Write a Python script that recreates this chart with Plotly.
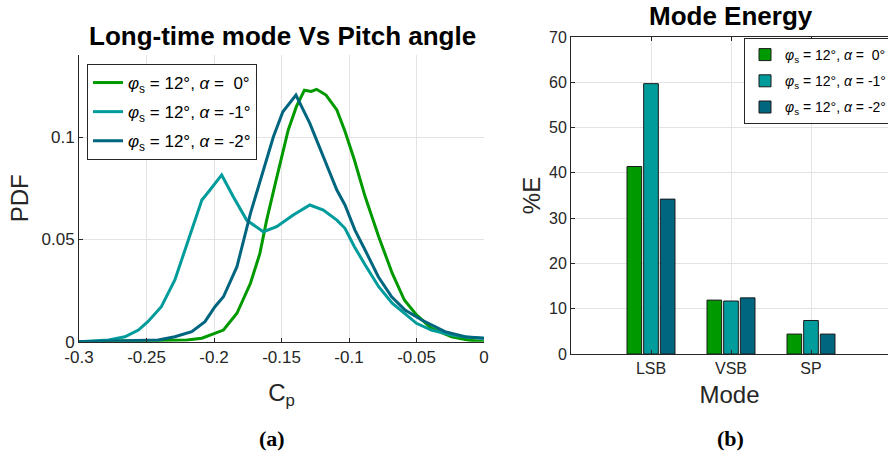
import plotly.graph_objects as go

# ---------------- data ----------------
# Left panel: PDF of Cp for three pitch angles
cp_a0 = [-0.30, -0.25, -0.22, -0.209, -0.199, -0.193, -0.183, -0.173, -0.166, -0.161, -0.154,
         -0.145, -0.139, -0.133, -0.128, -0.124, -0.117, -0.109, -0.103, -0.096, -0.088,
         -0.078, -0.068, -0.059, -0.050, -0.039, -0.024, -0.012, 0.0]
pdf_a0 = [0.0, 0.0003, 0.0008, 0.0017, 0.004, 0.0057, 0.0139, 0.0286, 0.0432, 0.0595, 0.0791,
          0.1036, 0.115, 0.1231, 0.1225, 0.1235, 0.1207, 0.1134, 0.1030, 0.0889, 0.0709,
          0.0514, 0.0335, 0.0204, 0.0131, 0.0066, 0.0024, 0.0008, 0.0]

cp_a1 = [-0.30, -0.278, -0.266, -0.256, -0.249, -0.239, -0.229, -0.219, -0.209, -0.204, -0.1943,
         -0.1857, -0.1758, -0.1635, -0.1536, -0.1413, -0.129, -0.119, -0.109, -0.103, -0.096,
         -0.088, -0.078, -0.068, -0.059, -0.050, -0.039, -0.024, -0.012, 0.0]
pdf_a1 = [0.0, 0.0008, 0.0024, 0.0057, 0.0098, 0.0171, 0.0302, 0.0498, 0.0693, 0.0734, 0.0816,
          0.0709, 0.0595, 0.0538, 0.0563, 0.062, 0.0669, 0.0644, 0.0595, 0.0555, 0.0465,
          0.0375, 0.0269, 0.0188, 0.0139, 0.009, 0.0057, 0.0033, 0.0022, 0.0017]

cp_a2 = [-0.30, -0.2413, -0.229, -0.2165, -0.2067, -0.1993, -0.193, -0.183, -0.173, -0.1635,
         -0.156, -0.149, -0.1393, -0.129, -0.119, -0.109, -0.103, -0.0956, -0.0881, -0.0783,
         -0.0684, -0.0585, -0.0461, -0.0289, -0.0141, 0.0]
pdf_a2 = [0.0, 0.0008, 0.0024, 0.0049, 0.0098, 0.0171, 0.022, 0.0367, 0.0628, 0.084,
          0.1003, 0.1125, 0.1207, 0.1068, 0.0905, 0.0742, 0.0669, 0.0546, 0.0449, 0.0318,
          0.022, 0.0155, 0.0106, 0.0049, 0.0024, 0.0017]

# Right panel: mode energy
modes = ["LSB", "VSB", "SP"]
energy_a0 = [41.4, 11.9, 4.4]
energy_a1 = [59.7, 11.7, 7.4]
energy_a2 = [34.2, 12.4, 4.4]

series_names = [
    "<i>φ</i><sub>s</sub> = 12°, <i>α</i> = \u00a00°",
    "<i>φ</i><sub>s</sub> = 12°, <i>α</i> = -1°",
    "<i>φ</i><sub>s</sub> = 12°, <i>α</i> = -2°",
]
colors = ["#009900", "#009B9B", "#00667F"]

x_ticks_left = [-0.3, -0.25, -0.2, -0.15, -0.1, -0.05, 0]
x_ticktext_left = ["-0.3", "-0.25", "-0.2", "-0.15", "-0.1", "-0.05", "0"]
y_ticks_left = [0, 0.05, 0.1]
y_ticktext_left = ["0", "0.05", "0.1"]

# ---------------- figure ----------------
W, H = 888, 456
FONT = "Liberation Sans, Arial, Helvetica, sans-serif"
AXC = "#262626"
GRID = "#e3e3e3"

fig = go.Figure()

for i, (xs, ys, nm, c) in enumerate(zip([cp_a0, cp_a1, cp_a2], [pdf_a0, pdf_a1, pdf_a2], series_names, colors)):
    fig.add_trace(go.Scatter(x=xs, y=ys, mode="lines", name=nm,
                             line=dict(color=c, width=3),
                             legendgroup="l%d" % i,
                             xaxis="x", yaxis="y", legend="legend"))

for i, (vals, nm, c) in enumerate(zip([energy_a0, energy_a1, energy_a2], series_names, colors)):
    fig.add_trace(go.Bar(x=modes, y=vals, name=nm,
                         marker=dict(color=c, line=dict(color="#1a1a1a", width=1)),
                         legendgroup="b%d" % i,
                         xaxis="x2", yaxis="y2", legend="legend2"))

def px_x(p):
    return p / W

def px_y(p):
    return 1 - p / H

fig.update_layout(
    width=W, height=H,
    margin=dict(l=0, r=0, t=0, b=0, autoexpand=False),
    paper_bgcolor="white", plot_bgcolor="white",
    font=dict(family=FONT, color=AXC, size=16),
    showlegend=True,
    barmode="group", bargap=0.375, bargroupgap=0.12,
    xaxis=dict(domain=[px_x(79), px_x(484)], range=[-0.3, 0], tickvals=x_ticks_left,
               ticktext=x_ticktext_left, ticks="inside", ticklen=4, tickcolor=AXC,
               showline=True, linecolor=AXC, linewidth=1, showgrid=True, gridcolor=GRID,
               zeroline=False, tickfont=dict(size=17, color=AXC), automargin=False,
               title=dict(text="C<sub>p</sub>", font=dict(size=24, color=AXC), standoff=18),
               anchor="y"),
    yaxis=dict(domain=[px_y(341.7), px_y(55)], range=[0, 0.1403], tickvals=y_ticks_left,
               ticktext=y_ticktext_left, ticks="inside", ticklen=4, tickcolor=AXC,
               showline=True, linecolor=AXC, linewidth=1, showgrid=True, gridcolor=GRID,
               zeroline=False, tickfont=dict(size=17, color=AXC), automargin=False,
               title=dict(text="PDF", font=dict(size=24, color=AXC), standoff=6),
               anchor="x"),
    xaxis2=dict(domain=[px_x(571), 1.0], range=[-1, 2.9625], type="category",
                ticks="inside", ticklen=4, tickcolor=AXC,
                showline=True, linecolor=AXC, linewidth=1, mirror="ticks",
                showgrid=True, gridcolor=GRID, zeroline=False, automargin=False,
                tickfont=dict(size=16, color=AXC),
                title=dict(text="Mode", font=dict(size=24, color=AXC), standoff=9),
                anchor="y2"),
    yaxis2=dict(domain=[px_y(354), px_y(37)], range=[0, 70], dtick=10,
                ticks="inside", ticklen=4, tickcolor=AXC,
                showline=True, linecolor=AXC, linewidth=1, automargin=False,
                showgrid=True, gridcolor=GRID, zeroline=False,
                tickfont=dict(size=16, color=AXC),
                title=dict(text="%E", font=dict(size=24, color=AXC), standoff=1),
                anchor="x2"),
    legend=dict(x=px_x(87), y=px_y(64), xanchor="left", yanchor="top",
                bgcolor="white", bordercolor=AXC, borderwidth=1, itemwidth=30,
                font=dict(size=17, color="black", family=FONT), tracegroupgap=4),
    legend2=dict(x=px_x(744), y=px_y(38), xanchor="left", yanchor="top",
                 bgcolor="white", bordercolor=AXC, borderwidth=1, itemwidth=30,
                 font=dict(size=14, color="black", family=FONT), tracegroupgap=5),
    annotations=[
        dict(text="<b>Long-time mode Vs Pitch angle</b>", x=px_x(282), y=px_y(36),
             xref="paper", yref="paper", showarrow=False, xanchor="center", yanchor="middle",
             font=dict(size=26, color="black", family=FONT)),
        dict(text="<b>Mode Energy</b>", x=px_x(731), y=px_y(16),
             xref="paper", yref="paper", showarrow=False, xanchor="center", yanchor="middle",
             font=dict(size=26, color="black", family=FONT)),
        dict(text="<b>(a)</b>", x=px_x(272), y=px_y(438),
             xref="paper", yref="paper", showarrow=False, xanchor="center", yanchor="middle",
             font=dict(size=22, color="black", family="Liberation Serif, Times New Roman, serif")),
        dict(text="<b>(b)</b>", x=px_x(730), y=px_y(438),
             xref="paper", yref="paper", showarrow=False, xanchor="center", yanchor="middle",
             font=dict(size=22, color="black", family="Liberation Serif, Times New Roman, serif")),
    ],
)

fig.write_html("out.html", config={"displayModeBar": False},
               post_script="document.body.style.margin='0';document.body.style.overflow='hidden';")
